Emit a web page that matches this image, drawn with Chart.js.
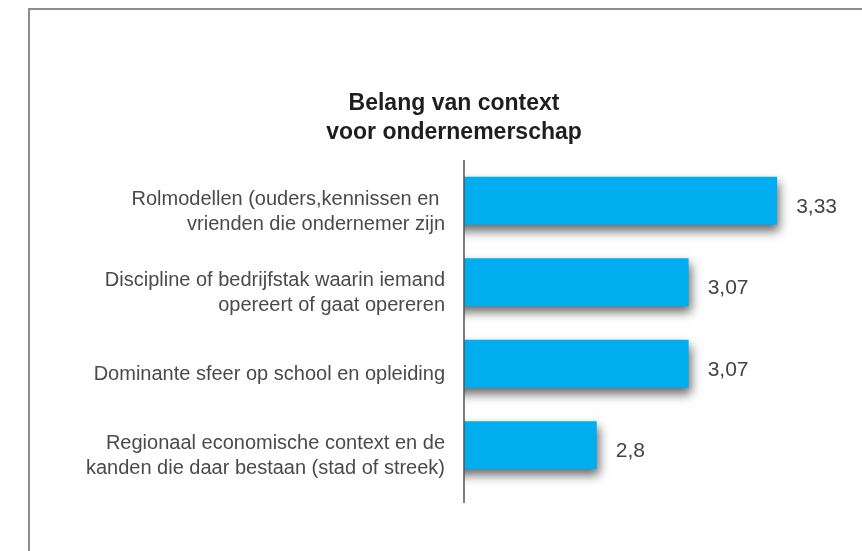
<!DOCTYPE html>
<html>
<head>
<meta charset="utf-8">
<script src="https://cdn.jsdelivr.net/npm/chart.js@4/dist/chart.umd.min.js"></script>
<style>
  body { margin: 0; background: #fff; }
  #wrap { position: relative; width: 862px; height: 551px; }
  #frame { position: absolute; left: 28px; top: 8px; right: -10px; bottom: -10px; border: 2px solid #8c8c8c; }
  canvas { position: absolute; left: 0; top: 0; }
</style>
</head>
<body>
<div id="wrap">
  <div id="frame"></div>
  <canvas id="contextChart" width="862" height="551"></canvas>
</div>
<script>
// Data

const categories = [
  ['Rolmodellen (ouders,kennissen en ', 'vrienden die ondernemer zijn'],
  ['Discipline of bedrijfstak waarin iemand', 'opereert of gaat opereren'],
  'Dominante sfeer op school en opleiding',
  ['Regionaal economische context en de', 'kanden die daar bestaan (stad of streek)']
];
const scores = [3.33, 3.07, 3.07, 2.8];
const titleLines = ['Belang van context', 'voor ondernemerschap'];

// Bar shadow + value labels + axis line

const barExtras = {
  id: 'barExtras',
  beforeDatasetsDraw(chart) {
    const ctx = chart.ctx;
    ctx.save();
    ctx.shadowColor = 'rgba(0, 0, 0, 0.6)';
    ctx.shadowBlur = 10;
    ctx.shadowOffsetX = 2;
    ctx.shadowOffsetY = 6;
  },
  afterDatasetsDraw(chart) {
    const ctx = chart.ctx;
    ctx.restore();

    const area = chart.chartArea;
    ctx.save();
    ctx.strokeStyle = '#555';
    ctx.lineWidth = 1.5;
    ctx.beginPath();
    ctx.moveTo(area.left, area.top);
    ctx.lineTo(area.left, 503);
    ctx.stroke();

    ctx.fillStyle = '#444';
    ctx.font = '21px "Liberation Sans", Arial, sans-serif';
    ctx.textBaseline = 'middle';
    ctx.textAlign = 'left';
    chart.getDatasetMeta(0).data.forEach((bar, i) => {
      ctx.fillText(String(scores[i]).replace('.', ','), bar.x + 19, bar.y + 6);
    });
    ctx.restore();
  }
};

new Chart(document.getElementById('contextChart'), {
  type: 'bar',
  data: {
    labels: categories,
    datasets: [{
      data: scores,
      backgroundColor: '#00aeef',
      borderWidth: 0,
      categoryPercentage: 1,
      barPercentage: 0.59
    }]
  },
  options: {
    indexAxis: 'y',
    responsive: false,
    animation: false,
    layout: {
      padding: { left: 73, right: 27, top: 89, bottom: 65 }
    },
    scales: {
      x: {
        display: false,
        min: 2.41,
        max: 3.5
      },
      y: {
        grid: { display: false },
        border: { display: false },
        ticks: {
          color: '#4a4a4a',
          padding: 11,
          labelOffset: 11,
          font: { family: '"Liberation Sans", Arial, sans-serif', size: 20, lineHeight: 1.25 }
        },
        afterFit(scale) {
          scale.width = 391;
        }
      }
    },
    plugins: {
      legend: { display: false },
      tooltip: { enabled: false },
      title: {
        display: true,
        text: titleLines,
        color: '#1e1e1e',
        padding: { top: 0, bottom: 13 },
        font: { family: '"Liberation Sans", Arial, sans-serif', size: 23, weight: 'bold', lineHeight: 1.26 }
      }
    }
  },
  plugins: [barExtras]
});
</script>
</body>
</html>
